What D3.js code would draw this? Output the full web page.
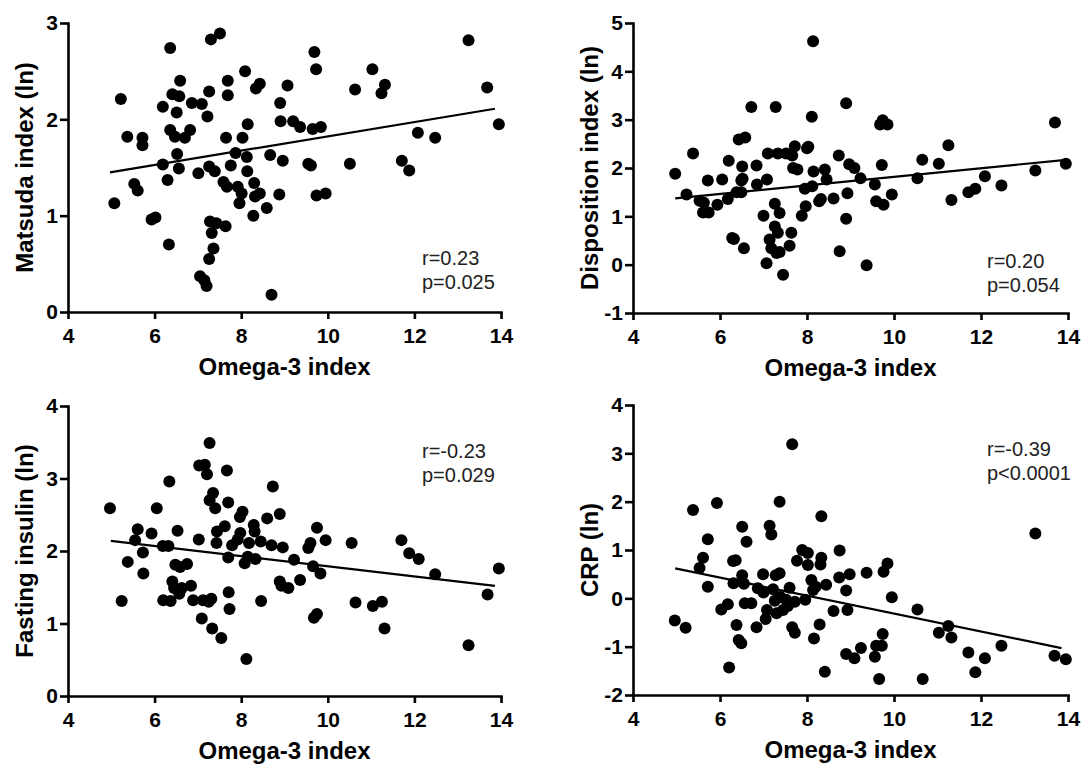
<!DOCTYPE html>
<html>
<head>
<meta charset="utf-8">
<script src="https://cdn.jsdelivr.net/npm/d3@7"></script>
<style>
  body { margin: 0; background: #fff; }
  svg { font-family: Arial, 'Liberation Sans', sans-serif; }
</style>
</head>
<body>
<div id="container"></div>
<script>
// Shared x axis
const xTicks = [4, 6, 8, 10, 12, 14];
const xTitle = 'Omega-3 index';

// Matsuda index (ln) vs omega-3 index
const matsudaPts = [
  [5.07,1.13],[5.22,2.21],[5.37,1.82],[5.53,1.33],[5.61,1.26],[5.72,1.81],[5.72,1.73],[5.93,0.96],
  [6.02,0.98],[6.19,2.13],[6.19,1.53],[6.30,1.37],[6.33,0.70],[6.36,2.74],[6.36,1.89],[6.41,2.26],
  [6.51,2.07],[6.47,1.82],[6.52,1.64],[6.56,1.49],[6.57,2.24],[6.59,2.40],[6.70,1.81],[6.82,1.89],
  [6.86,2.17],[7.01,1.44],[7.05,0.37],[7.09,2.16],[7.15,0.33],[7.20,0.27],[7.22,2.03],[7.26,1.51],
  [7.26,2.29],[7.28,0.94],[7.26,0.55],[7.32,0.82],[7.30,2.83],[7.36,0.66],[7.39,1.46],[7.43,0.92],
  [7.51,2.89],[7.59,1.35],[7.67,1.30],[7.64,0.89],[7.65,1.81],[7.69,2.40],[7.69,2.25],[7.76,1.52],
  [7.87,1.65],[7.92,1.30],[7.96,1.13],[8.01,1.23],[8.03,1.81],[8.09,2.50],[8.13,1.61],[8.14,1.46],
  [8.15,1.95],[8.28,1.00],[8.30,1.34],[8.32,1.20],[8.34,2.32],[8.43,2.37],[8.43,1.23],[8.59,1.08],
  [8.67,1.63],[8.70,0.18],[9.07,2.35],[8.90,2.17],[8.91,1.98],[9.20,1.98],[9.36,1.92],[9.65,1.90],
  [9.84,1.92],[9.69,2.70],[9.73,2.52],[8.96,1.57],[9.55,1.54],[9.61,1.52],[8.88,1.22],[9.74,1.21],
  [9.95,1.23],[10.51,1.54],[10.63,2.31],[11.03,2.52],[11.24,2.27],[11.32,2.36],[11.71,1.57],
  [11.88,1.47],[12.08,1.86],[12.48,1.81],[13.25,2.82],[13.68,2.33],[13.95,1.95]
];
const matsudaFit = [[4.97,1.45],[13.86,2.11]];

// Disposition index (ln)
const dispositionPts = [
  [4.97,1.88],[5.23,1.45],[5.38,2.30],[5.53,1.32],[5.63,1.28],[5.61,1.08],[5.74,1.08],[5.72,1.74],
  [5.94,1.24],[6.05,1.76],[6.18,1.36],[6.20,2.15],[6.28,0.55],[6.32,0.53],[6.38,1.50],[6.43,2.59],
  [6.49,1.50],[6.49,1.74],[6.51,2.03],[6.55,0.34],[6.58,2.63],[6.52,1.78],[6.72,3.26],[6.84,2.05],
  [6.85,1.66],[7.00,1.01],[7.07,0.03],[7.08,1.76],[7.10,2.30],[7.14,0.52],[7.18,0.34],[7.26,1.26],
  [7.26,0.79],[7.28,3.26],[7.30,0.24],[7.33,2.30],[7.33,0.66],[7.37,1.07],[7.37,0.26],[7.45,-0.21],
  [7.52,2.30],[7.60,0.39],[7.64,0.66],[7.66,2.26],[7.68,2.00],[7.72,2.45],[7.78,1.97],[7.88,1.01],
  [7.95,1.57],[7.97,1.21],[8.00,2.41],[8.03,2.44],[8.14,4.62],[8.11,3.06],[8.12,1.62],[8.15,1.93],
  [8.28,1.31],[8.32,1.36],[8.41,1.97],[8.45,1.76],[8.61,1.37],[8.73,2.26],[8.75,0.28],[8.90,3.34],
  [8.93,1.48],[8.90,0.95],[8.97,2.08],[9.09,2.00],[9.23,1.79],[9.37,-0.01],[9.56,1.66],[9.59,1.31],
  [9.68,2.90],[9.74,2.99],[9.85,2.90],[9.72,2.06],[9.76,1.24],[9.95,1.45],[10.54,1.79],[10.65,2.17],
  [11.03,2.09],[11.25,2.47],[11.32,1.34],[11.71,1.50],[11.87,1.57],[12.09,1.83],[12.47,1.64],
  [13.25,1.95],[13.70,2.94],[13.95,2.09]
];
const dispositionFit = [[4.97,1.37],[13.96,2.17]];

// Fasting insulin (ln)
const insulinPts = [
  [4.97,2.59],[5.24,1.31],[5.38,1.85],[5.55,2.15],[5.61,2.30],[5.73,1.98],[5.74,1.69],[5.93,2.24],
  [6.05,2.59],[6.19,2.07],[6.20,1.32],[6.32,2.07],[6.34,2.96],[6.37,1.31],[6.41,1.58],[6.45,1.49],
  [6.48,1.81],[6.53,2.28],[6.57,1.41],[6.59,1.78],[6.63,1.49],[6.75,1.82],[6.84,1.52],[6.89,1.32],
  [7.02,2.16],[7.03,3.18],[7.09,1.07],[7.12,1.32],[7.16,3.19],[7.21,3.06],[7.25,1.30],[7.27,3.49],
  [7.31,1.34],[7.33,0.93],[7.27,2.70],[7.35,2.80],[7.40,2.59],[7.43,2.11],[7.44,2.27],[7.54,0.80],
  [7.62,2.34],[7.67,3.11],[7.70,2.67],[7.70,1.91],[7.71,1.43],[7.73,1.20],[7.79,2.08],[7.92,2.16],
  [7.97,2.47],[7.98,2.25],[8.03,2.54],[8.08,1.83],[8.12,0.51],[8.15,1.92],[8.18,2.11],[8.29,2.36],
  [8.31,2.27],[8.33,1.89],[8.45,2.13],[8.46,1.31],[8.60,2.45],[8.73,2.89],[8.70,2.08],[8.89,2.51],
  [8.96,2.05],[8.89,1.58],[8.93,1.52],[9.09,1.49],[9.22,1.88],[9.36,1.60],[9.55,2.04],[9.60,2.11],
  [9.66,1.79],[9.68,1.08],[9.75,1.13],[9.75,2.32],[9.83,1.69],[9.95,2.15],[10.55,2.11],[10.64,1.29],
  [11.04,1.24],[11.25,1.30],[11.31,0.93],[11.70,2.15],[11.88,1.97],[12.10,1.89],[12.48,1.68],
  [13.25,0.70],[13.69,1.40],[13.95,1.76]
];
const insulinFit = [[4.99,2.14],[13.86,1.52]];

// CRP (ln)
const crpPts = [
  [4.96,-0.46],[5.21,-0.61],[5.38,1.83],[5.53,0.63],[5.61,0.84],[5.72,0.24],[5.72,1.22],[5.93,1.97],
  [6.03,-0.23],[6.18,-0.12],[6.21,-1.43],[6.30,0.77],[6.36,0.79],[6.31,0.31],[6.38,-0.55],[6.43,-0.86],
  [6.49,-0.93],[6.51,0.48],[6.51,1.48],[6.55,0.30],[6.57,-0.10],[6.61,1.17],[6.72,-0.10],[6.84,-0.60],
  [6.87,0.21],[6.99,0.50],[7.00,0.12],[7.05,-0.43],[7.08,-0.24],[7.14,1.50],[7.18,1.32],[7.22,0.19],
  [7.26,-0.05],[7.28,0.48],[7.30,-0.31],[7.37,2.00],[7.37,0.52],[7.39,0.03],[7.45,-0.24],[7.52,-0.03],
  [7.56,-0.16],[7.60,0.22],[7.66,3.19],[7.66,-0.60],[7.72,-0.71],[7.72,-0.07],[7.77,0.78],[7.89,1.00],
  [7.96,-0.03],[8.02,0.94],[8.02,0.69],[8.10,0.38],[8.14,0.17],[8.16,-0.83],[8.20,0.24],[8.29,-0.54],
  [8.31,0.70],[8.33,0.84],[8.33,1.70],[8.41,-1.52],[8.44,0.28],[8.61,-0.26],[8.74,0.43],[8.75,0.99],
  [8.90,0.16],[8.93,-0.24],[8.98,0.50],[8.90,-1.15],[9.09,-1.24],[9.24,-1.03],[9.37,0.53],[9.56,-1.21],
  [9.59,-0.98],[9.66,-1.67],[9.72,-0.98],[9.74,-0.74],[9.76,0.55],[9.85,0.72],[9.95,0.02],[10.54,-0.23],
  [10.66,-1.67],[11.03,-0.71],[11.25,-0.57],[11.32,-0.81],[11.71,-1.12],[11.87,-1.53],[12.09,-1.24],
  [12.47,-0.98],[13.25,1.34],[13.69,-1.19],[13.95,-1.26]
];
const crpFit = [[4.97,0.62],[13.85,-1.03]];

// y titles, ticks and stats per panel
const yTitles = ['Matsuda index (ln)', 'Disposition index (ln)', 'Fasting insulin (ln)', 'CRP (ln)'];
const yTicksList = [[0, 1, 2, 3], [-1, 0, 1, 2, 3, 4, 5], [0, 1, 2, 3, 4], [-2, -1, 0, 1, 2, 3, 4]];
const statsList = [['r=0.23', 'p=0.025'], ['r=0.20', 'p=0.054'], ['r=-0.23', 'p=0.029'], ['r=-0.39', 'p<0.0001']];

const pointsList = [matsudaPts, dispositionPts, insulinPts, crpPts];
const fitList = [matsudaFit, dispositionFit, insulinFit, crpFit];

// layout of the four panels
const frames = [
  { left: 68, top: 23, w: 433, h: 289, statY: 242 },
  { left: 633, top: 23, w: 435, h: 290, statY: 245 },
  { left: 68, top: 406, w: 433, h: 290, statY: 52 },
  { left: 633, top: 405, w: 435, h: 290, statY: 51 }
];

const svg = d3.select('#container')
  .append('svg')
  .attr('width', 1083)
  .attr('height', 764);

svg.append('rect').attr('width', 1083).attr('height', 764).attr('fill', '#fff');

// plain hyphen for negatives, like the original
const fmt = d => String(d);

frames.forEach((f, i) => {
  const g = svg.append('g').attr('transform', `translate(${f.left} ${f.top})`);
  const yTicks = yTicksList[i];

  const x = d3.scaleLinear().domain([4, 14]).range([0, f.w]);
  const y = d3.scaleLinear().domain(d3.extent(yTicks)).range([f.h, 0]);

  // regression line
  g.append('path')
    .datum(fitList[i])
    .attr('d', d3.line().x(d => x(d[0])).y(d => y(d[1])))
    .attr('fill', 'none')
    .attr('stroke', '#000')
    .attr('stroke-width', 2.2);

  // points
  g.append('g')
    .selectAll('circle')
    .data(pointsList[i])
    .enter()
    .append('circle')
    .attr('cx', d => x(d[0]))
    .attr('cy', d => y(d[1]))
    .attr('r', 6)
    .attr('fill', '#000');

  // axes
  const xAxis = g.append('g')
    .attr('transform', `translate(0 ${f.h})`)
    .call(d3.axisBottom(x).tickValues(xTicks).tickFormat(fmt).tickSize(7).tickSizeOuter(0).tickPadding(9));
  const yAxis = g.append('g')
    .call(d3.axisLeft(y).tickValues(yTicks).tickFormat(fmt).tickSize(8).tickSizeOuter(0).tickPadding(2));

  [xAxis, yAxis].forEach(ax => {
    ax.select('.domain').attr('stroke-width', 2.6).attr('stroke-linecap', 'square');
    ax.selectAll('.tick line').attr('stroke-width', 2.6);
    ax.selectAll('.tick text')
      .attr('font-family', 'Arial, "Liberation Sans", sans-serif')
      .attr('font-size', 21)
      .attr('font-weight', 'bold')
      .attr('fill', '#000');
  });

  // axis titles
  g.append('text')
    .attr('x', f.w / 2)
    .attr('y', f.h + 63)
    .attr('text-anchor', 'middle')
    .attr('font-size', 24)
    .attr('font-weight', 'bold')
    .text(xTitle);

  g.append('text')
    .attr('transform', `translate(${-35} ${f.h / 2}) rotate(-90)`)
    .attr('text-anchor', 'middle')
    .attr('font-size', 24)
    .attr('font-weight', 'bold')
    .text(yTitles[i]);

  // r and p values
  g.append('g')
    .selectAll('text')
    .data(statsList[i])
    .enter()
    .append('text')
    .attr('x', 354)
    .attr('y', (d, k) => f.statY + k * 24)
    .attr('font-size', 20)
    .attr('fill', '#222')
    .text(d => d);
});
</script>
</body>
</html>
